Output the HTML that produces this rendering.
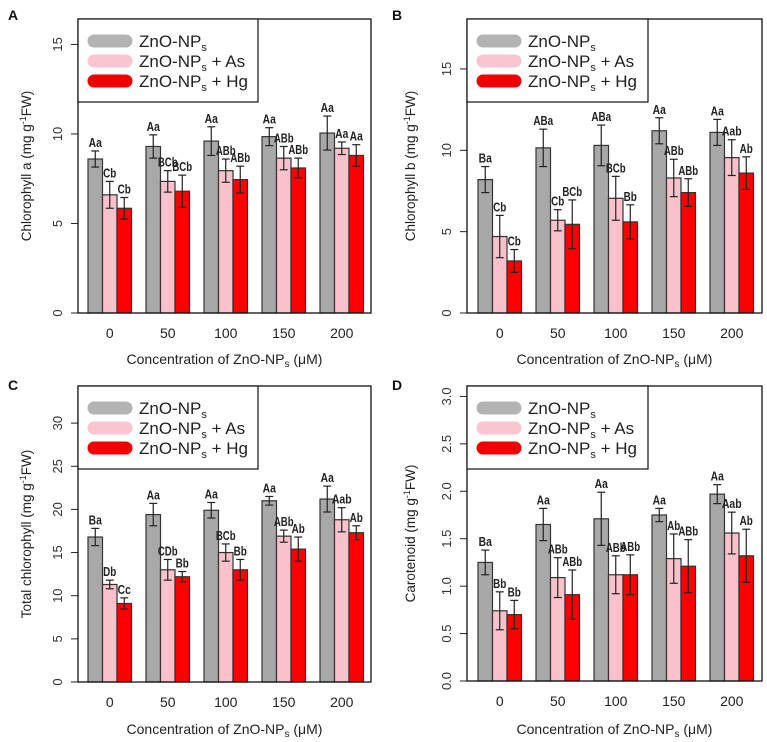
<!DOCTYPE html>
<html><head><meta charset="utf-8">
<style>
html,body{margin:0;padding:0;background:#fff;}
svg text{font-family:"Liberation Sans",Arial,sans-serif;}
</style></head>
<body>
<svg id="fig" width="767" height="737" viewBox="0 0 767 737" xmlns="http://www.w3.org/2000/svg"></svg>
<script>
const categories = ["0","50","100","150","200"];
const seriesNames = ["ZnO-NPs","ZnO-NPs + As","ZnO-NPs + Hg"];
// Panel A: Chlorophyll a
const aGray = [8.6,9.3,9.6,9.85,10.05];
const aGrayErr = [0.45,0.65,0.8,0.5,0.95];
const aPink = [6.6,7.35,7.95,8.65,9.2];
const aPinkErr = [0.75,0.6,0.65,0.65,0.35];
const aRed = [5.85,6.8,7.45,8.1,8.8];
const aRedErr = [0.6,0.9,0.75,0.55,0.6];
const aLabels = [["Aa","Aa","Aa","Aa","Aa"],["Cb","BCb","ABb","ABb","Aa"],["Cb","BCb","ABb","ABb","Aa"]];
const aTicks = [0,5,10,15];
// Panel B: Chlorophyll b
const bGray = [8.2,10.15,10.3,11.2,11.1];
const bGrayErr = [0.8,1.15,1.25,0.8,0.8];
const bPink = [4.7,5.7,7.05,8.3,9.55];
const bPinkErr = [1.3,0.65,1.35,1.15,1.1];
const bRed = [3.2,5.45,5.6,7.4,8.6];
const bRedErr = [0.7,1.5,1.05,0.85,1.0];
const bLabels = [["Ba","ABa","ABa","Aa","Aa"],["Cb","Cb","BCb","ABb","Aab"],["Cb","BCb","Bb","ABb","Ab"]];
const bTicks = [0,5,10,15];
// Panel C: Total chlorophyll
const cGray = [16.8,19.4,19.9,21.0,21.2];
const cGrayErr = [1.0,1.3,0.9,0.5,1.5];
const cPink = [11.3,13.0,15.0,16.9,18.8];
const cPinkErr = [0.5,1.2,1.0,0.7,1.4];
const cRed = [9.1,12.2,13.0,15.4,17.3];
const cRedErr = [0.65,0.6,1.2,1.4,0.8];
const cLabels = [["Ba","Aa","Aa","Aa","Aa"],["Db","CDb","BCb","ABb","Aab"],["Cc","Bb","Bb","Ab","Ab"]];
const cTicks = [0,5,10,15,20,25,30];
// Panel D: Carotenoid
const dGray = [1.25,1.65,1.71,1.75,1.97];
const dGrayErr = [0.13,0.17,0.28,0.07,0.1];
const dPink = [0.74,1.09,1.12,1.29,1.56];
const dPinkErr = [0.2,0.21,0.2,0.26,0.22];
const dRed = [0.70,0.91,1.12,1.21,1.32];
const dRedErr = [0.15,0.26,0.21,0.28,0.28];
const dLabels = [["Ba","Aa","Aa","Aa","Aa"],["Bb","ABb","ABb","Ab","Aab"],["Bb","ABb","ABb","ABb","Ab"]];
const dTicks = ["0.0","0.5","1.0","1.5","2.0","2.5","3.0"];

const NS="http://www.w3.org/2000/svg";
const svg=document.getElementById('fig');
function mk(tag,attrs,parent){const e=document.createElementNS(NS,tag);for(const k in attrs)e.setAttribute(k,attrs[k]);(parent||svg).appendChild(e);return e;}
const fills=["#a8a8a8","#f8c1cb","#ff0000"];
const legFills=["#b3b3b3","#f9c5ce","#f00000"];

function panel(p){
  const g=mk('g',{});
  
  
  const L=p.left,R=p.right,T=p.top,B=p.bottom;
  const ys=v=>B-(v/p.ymax)*(B-T);
  const lab=mk('text',{x:p.ox+8,y:p.oy+20,'font-size':14,'font-weight':'bold',fill:'#111'},g);lab.textContent=p.id;
  
  p.ticks.forEach(t=>{const v=parseFloat(t);const y=ys(v);
    mk('line',{x1:L-7,x2:L,y1:y,y2:y,stroke:'#222','stroke-width':1},g);
    const tx=mk('text',{x:L-16,y:y,'font-size':13,fill:'#333','text-anchor':'middle',transform:`rotate(-90 ${L-16} ${y})`},g);tx.textContent=t;
    });
  const yt=mk('text',{x:p.ox+31,y:(T+B)/2,'font-size':13.5,fill:'#222','text-anchor':'middle',transform:`rotate(-90 ${p.ox+31} ${(T+B)/2})`},g);
  
  yt.innerHTML=p.ytitle;
  const series=[p.gray,p.pink,p.red],errs=[p.grayErr,p.pinkErr,p.redErr];
  const bw=14.5,gs=58;
  categories.forEach((c,gi)=>{
    series.forEach((s,si)=>{
      const x=L+p.off+gi*gs+si*bw, v=s[gi], e=errs[si][gi];
      const r=mk('rect',{x:x,y:ys(v),width:bw,height:B-ys(v),fill:fills[si],stroke:'#333','stroke-width':1.2},g);
      
      const cx=x+bw/2;
      mk('line',{x1:cx,x2:cx,y1:ys(v+e),y2:ys(v-e),stroke:'#222','stroke-width':1.2},g);
      mk('line',{x1:cx-4,x2:cx+4,y1:ys(v+e),y2:ys(v+e),stroke:'#222','stroke-width':1.2},g);
      mk('line',{x1:cx-4,x2:cx+4,y1:ys(v-e),y2:ys(v-e),stroke:'#222','stroke-width':1.2},g);
      const txt=p.labels[si][gi];
      const t=mk('text',{x:cx,y:ys(v+e)-4,'font-size':13,'font-weight':'bold',fill:'#222','text-anchor':'middle',textLength:txt.length*6.6,lengthAdjust:'spacingAndGlyphs'},g);
      t.textContent=txt;
      
    });
    const xl=mk('text',{x:L+p.off+gi*gs+bw*1.5,y:B+25,'font-size':14,fill:'#222','text-anchor':'middle'},g);
    xl.textContent=c;
  });
  mk('rect',{x:L,y:T,width:R-L,height:B-T,fill:'none',stroke:'#111','stroke-width':1.3},g);
  const xt=mk('text',{x:(L+R)/2,y:p.oy+364,'font-size':14,fill:'#222','text-anchor':'middle'},g);
  xt.innerHTML='Concentration of ZnO-NP<tspan font-size="10" dy="3">s</tspan><tspan dy="-3"> (μM)</tspan>';
  
  const lg=mk('g',{},g);
  mk('rect',{x:L,y:T,width:p.legW,height:83,fill:'#fff',stroke:'#111','stroke-width':1.2},lg);
  ['',' + As',' + Hg'].forEach((suf,i)=>{
    const y=T+22+i*20;
    const ln=mk('line',{x1:L+16,x2:L+48,y1:y,y2:y,stroke:legFills[i],'stroke-width':13,'stroke-linecap':'round'},lg);
    
    const t=mk('text',{x:L+61,y:y+6,'font-size':17,fill:'#222'},lg);
    t.innerHTML='ZnO-NP<tspan font-size="11" dy="4">s</tspan><tspan dy="-4">'+suf+'</tspan>';
    
  });
}
const ytA='Chlorophyll a (mg g<tspan font-size="9" dy="-5">-1</tspan><tspan dy="5">FW)</tspan>';
const ytB='Chlorophyll b (mg g<tspan font-size="9" dy="-5">-1</tspan><tspan dy="5">FW)</tspan>';
const ytC='Total chlorophyll (mg g<tspan font-size="9" dy="-5">-1</tspan><tspan dy="5">FW)</tspan>';
const ytD='Carotenoid (mg g<tspan font-size="9" dy="-5">-1</tspan><tspan dy="5">FW)</tspan>';
panel({id:'A',ox:0,oy:0,left:78,right:371,top:19,bottom:313,ymax:16.42,off:10,legW:180,gray:aGray,grayErr:aGrayErr,pink:aPink,pinkErr:aPinkErr,red:aRed,redErr:aRedErr,labels:aLabels,ticks:aTicks,ytitle:ytA});
panel({id:'B',ox:384,oy:0,left:467,right:762,top:19,bottom:313,ymax:18.07,off:11,legW:181,gray:bGray,grayErr:bGrayErr,pink:bPink,pinkErr:bPinkErr,red:bRed,redErr:bRedErr,labels:bLabels,ticks:bTicks,ytitle:ytB});
panel({id:'C',ox:0,oy:370,left:78,right:371,top:386,bottom:682,ymax:34.3,off:10,legW:180,gray:cGray,grayErr:cGrayErr,pink:cPink,pinkErr:cPinkErr,red:cRed,redErr:cRedErr,labels:cLabels,ticks:cTicks,ytitle:ytC});
panel({id:'D',ox:384,oy:370,left:467,right:762,top:386,bottom:681,ymax:3.11,off:11,legW:181,gray:dGray,grayErr:dGrayErr,pink:dPink,pinkErr:dPinkErr,red:dRed,redErr:dRedErr,labels:dLabels,ticks:dTicks,ytitle:ytD});
</script>
</body></html>
